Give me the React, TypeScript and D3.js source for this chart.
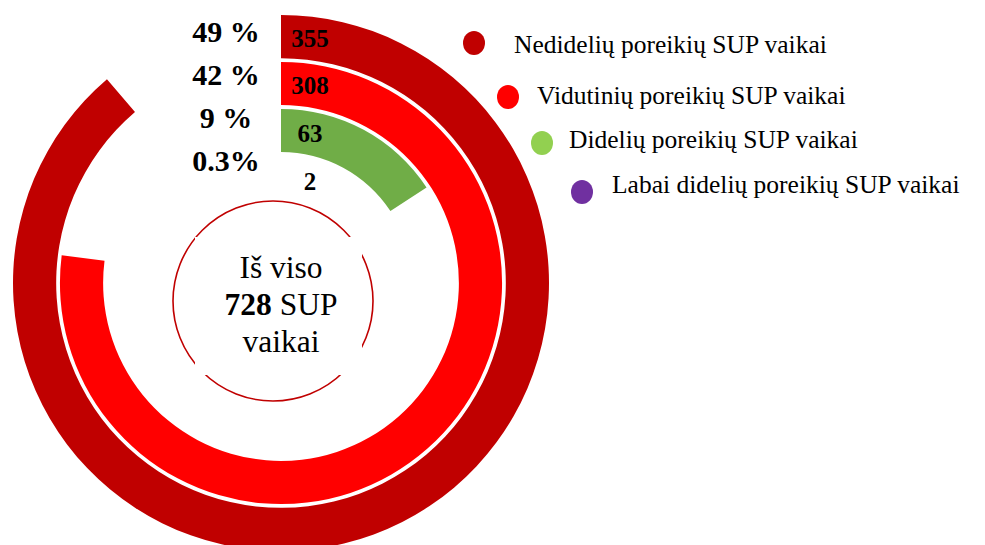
import React from "react";
import * as d3 from "d3";

const categories = [
  "Nedidelių poreikių SUP vaikai",
  "Vidutinių poreikių SUP vaikai",
  "Didelių poreikių SUP vaikai",
  "Labai didelių poreikių SUP vaikai",
];
const values = [355, 308, 63, 2];
const percentLabels = ["49 %", "42 %", "9 %", "0.3%"];
const arcColors = ["#C00000", "#FF0000", "#70AD47", "#7030A0"];
const legendColors = ["#C00000", "#FF0000", "#92D050", "#7030A0"];
const totalLabel = "728";
const centerLines = ["Iš viso", "SUP", "vaikai"];

const W = 985;
const H = 545;
const cx = 281;
const cy = 283;
const FONT = "'Liberation Serif', 'Times New Roman', serif";

// legend layout (dot centre, text start, text baseline)
const legendLayout = [
  { dx: 474, dy: 43, tx: 514, ty: 53 },
  { dx: 508, dy: 97, tx: 537, ty: 104 },
  { dx: 542, dy: 143, tx: 569, ty: 148 },
  { dx: 582, dy: 192, tx: 612, ty: 193 },
];

export default function App() {
  const angle = d3.scaleLinear().domain([0, 400]).range([0, 2 * Math.PI]);
  const radius = d3
    .scaleBand<string>()
    .domain(categories)
    .range([268, 84])
    .paddingInner(0.08);
  const bw = radius.bandwidth();
  const arcGen = d3.arc<any>();

  const pctY = d3.scalePoint<string>().domain(categories).range([42, 171]);

  const labelOffsetX = 29;

  return (
    <svg
      width={W}
      height={H}
      style={{ position: "absolute", left: 0, top: 0, background: "#fff" }}
      fontFamily={FONT}
    >
      <g transform={`translate(${cx},${cy})`}>
        {categories.map((c, i) => {
          const inner = radius(c)!;
          if (values[i] < 5) return null;
          const d = arcGen({
            innerRadius: inner,
            outerRadius: inner + bw,
            startAngle: 0,
            endAngle: angle(values[i]),
          });
          return <path key={c} d={d || ""} fill={arcColors[i]} />;
        })}
        {categories.map((c, i) => {
          const mid = radius(c)! + bw / 2;
          const y = -Math.sqrt(mid * mid - labelOffsetX * labelOffsetX);
          return (
            <text
              key={"v" + c}
              x={labelOffsetX}
              y={y}
              dy="0.35em"
              textAnchor="middle"
              fontWeight="bold"
              fontSize={25}
              fill="#000"
            >
              {values[i]}
            </text>
          );
        })}
      </g>

      {categories.map((c, i) => (
        <text
          key={"p" + c}
          x={226}
          y={pctY(c)}
          textAnchor="middle"
          fontWeight="bold"
          fontSize={30}
          fill="#000"
        >
          {percentLabels[i]}
        </text>
      ))}

      {/* centre circle with text box */}
      <circle cx={273} cy={301} r={100} fill="none" stroke="#C00000" strokeWidth={1.6} />
      <rect x={195} y={237} width={167} height={138} fill="#fff" />
      <text x={281} y={278} textAnchor="middle" fontSize={31.5} fill="#000">
        {centerLines[0]}
      </text>
      <text x={281} y={315} textAnchor="middle" fontSize={31.5} fill="#000">
        <tspan fontWeight="bold">{totalLabel}</tspan> {centerLines[1]}
      </text>
      <text x={281} y={352} textAnchor="middle" fontSize={31.5} fill="#000">
        {centerLines[2]}
      </text>

      {categories.map((c, i) => {
        const l = legendLayout[i];
        return (
          <g key={"l" + c}>
            <ellipse cx={l.dx} cy={l.dy} rx={11} ry={12} fill={legendColors[i]} />
            <text x={l.tx} y={l.ty} fontSize={25.5} fill="#000">
              {c}
            </text>
          </g>
        );
      })}
    </svg>
  );
}
